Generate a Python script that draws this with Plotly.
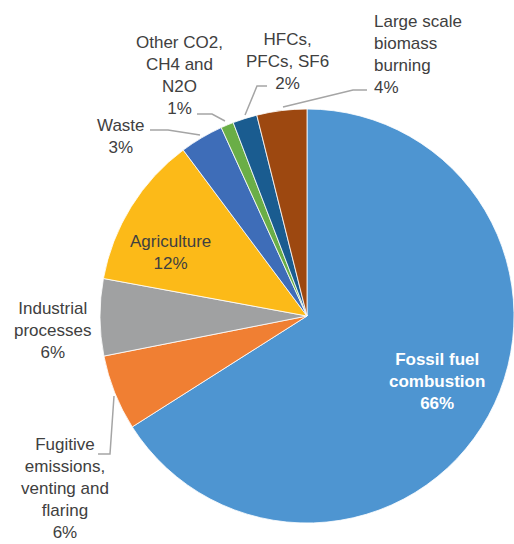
import plotly.graph_objects as go

categories = ["Fossil fuel combustion", "Fugitive emissions, venting and flaring",
              "Industrial processes", "Agriculture", "Waste",
              "Other CO2, CH4 and N2O", "HFCs, PFCs, SF6", "Large scale biomass burning"]
values = [66.0, 5.9, 6.0, 11.9, 3.4, 1.0, 1.9, 3.9]
pct_labels = ["66%", "6%", "6%", "12%", "3%", "1%", "2%", "4%"]
label_text = ["Fossil fuel<br>combustion", "Fugitive<br>emissions,<br>venting and<br>flaring",
              "Industrial<br>processes", "Agriculture", "Waste",
              "Other CO2,<br>CH4 and<br>N2O", "HFCs,<br>PFCs, SF6", "Large scale<br>biomass<br>burning"]
colors = ["#4E95D1", "#F07F33", "#A0A1A2", "#FCBA18", "#3E6DB8", "#6AAE47", "#1A5C90", "#9D4810"]

W, H = 514, 544
OFF = 0  # body margin removed via post_script


def fx(px):
    return (px - OFF) / W


def fy(py):
    return 1 - (py - OFF) / H


CX, CY, R = 308, 316, 208
fig = go.Figure(go.Pie(
    labels=categories, values=values, sort=False, direction="clockwise", rotation=0,
    marker=dict(colors=colors, line=dict(color="white", width=0.8)),
    textinfo="none", hoverinfo="label+percent",
    domain=dict(x=[fx(CX - R), 1.0], y=[fy(CY + R), fy(CY - R)]),
    showlegend=False,
))

# label positions (pixel centres) and styling
lab_pos = [(437, 381), (65, 488), (52, 330), (170, 252), (121, 136), (179, 76), (287, 61), (372, 55)]
for i, (px, py) in enumerate(lab_pos):
    bold = i == 0
    txt = label_text[i] + "<br>" + pct_labels[i]
    if bold:
        txt = "<b>" + txt + "</b>"
    anchor = "left" if i == 7 else "center"
    fig.add_annotation(
        x=fx(px), y=fy(py), xref="paper", yref="paper",
        text=txt, showarrow=False, xanchor=anchor, yanchor="middle",
        align="left" if i == 7 else "center",
        font=dict(family="Liberation Sans, Arial", size=17,
                  color="white" if bold else "#404040"),
    )

# leader lines (pixel coords)
leaders = [
    [(98, 454), (110, 454), (114, 396)],
    [(150, 130), (168, 130), (200, 135)],
    [(197, 114), (212, 114), (225, 121)],
    [(267, 86), (257, 86), (245, 115)],
    [(367, 90), (353, 90), (283, 107)],
]
for pts in leaders:
    path = "M " + " L ".join(f"{fx(x):.4f},{fy(y):.4f}" for x, y in pts)
    fig.add_shape(type="path", path=path, xref="paper", yref="paper",
                  line=dict(color="#A5A5A5", width=1.5))

fig.update_layout(width=W, height=H, margin=dict(l=0, r=0, t=0, b=0),
                  paper_bgcolor="white", plot_bgcolor="white")
fig.write_html("out.html", config={"displayModeBar": False},
               post_script="document.body.style.margin='0';document.body.style.overflow='hidden';")
